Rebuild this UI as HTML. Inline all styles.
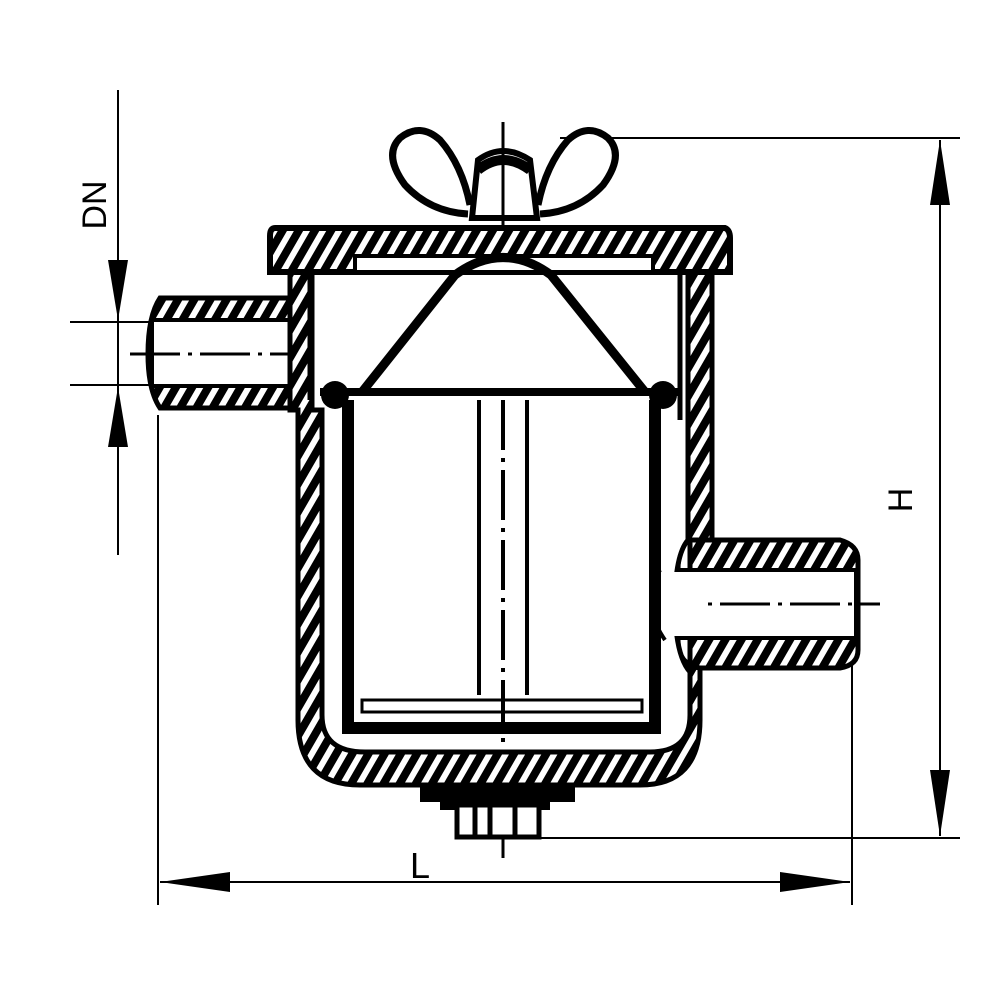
<!DOCTYPE html>
<html><head><style>html,body{margin:0;background:#fff}svg{display:block}</style></head><body>
<svg width="1000" height="1000" viewBox="0 0 1000 1000" xmlns="http://www.w3.org/2000/svg">
<defs>
<pattern id="h" patternUnits="userSpaceOnUse" width="14" height="14" patternTransform="rotate(30)">
<rect width="14" height="14" fill="#000"/><rect x="0" y="0" width="6" height="14" fill="#fff"/>
</pattern>
</defs>
<g stroke="#000" fill="none">
<line x1="560" y1="138" x2="960" y2="138" stroke-width="2"/>
<line x1="520" y1="838" x2="960" y2="838" stroke-width="2"/>
<line x1="940" y1="140" x2="940" y2="836" stroke-width="2"/>
<line x1="158" y1="415" x2="158" y2="905" stroke-width="2"/>
<line x1="852" y1="660" x2="852" y2="905" stroke-width="2"/>
<line x1="160" y1="882" x2="850" y2="882" stroke-width="2"/>
<line x1="118" y1="90" x2="118" y2="555" stroke-width="2"/>
<line x1="70" y1="322" x2="335" y2="322" stroke-width="2"/>
<line x1="70" y1="385" x2="330" y2="385" stroke-width="2"/>
<line x1="503" y1="122" x2="503" y2="858" stroke-width="3" stroke-dasharray="50 8 4 8"/>
</g>
<g fill="#000">
<polygon points="940,140 930,205 950,205"/>
<polygon points="940,836 930,770 950,770"/>
<polygon points="160,882 230,872 230,892"/>
<polygon points="850,882 780,872 780,892"/>
<polygon points="118,320 108,260 128,260"/>
<polygon points="118,387 108,447 128,447"/>
</g>
<text x="0" y="0" transform="translate(912,500) rotate(-90)" font-family="Liberation Sans,sans-serif" font-size="34" text-anchor="middle">H</text>
<text x="0" y="0" transform="translate(106,205) rotate(-90)" font-family="Liberation Sans,sans-serif" font-size="34" text-anchor="middle">DN</text>
<text x="420" y="878" font-family="Liberation Sans,sans-serif" font-size="36" text-anchor="middle">L</text>

<path d="M160,298 H290 V408 H160 Q148,390 148,354 Q148,316 160,298 Z" fill="url(#h)" stroke="#000" stroke-width="5"/>
<rect x="152" y="320" width="175" height="66" fill="#fff" stroke="#000" stroke-width="4"/>
<line x1="130" y1="354" x2="300" y2="354" stroke="#000" stroke-width="3" stroke-dasharray="50 8 4 8"/>
<path d="M690,540 H840 Q858,545 858,560 V650 Q858,665 840,668 H690 Z" fill="url(#h)" stroke="#000" stroke-width="5"/>
<rect x="670" y="570" width="186" height="68" fill="#fff" stroke="#000" stroke-width="4"/>
<line x1="650" y1="604" x2="880" y2="604" stroke="#000" stroke-width="3" stroke-dasharray="50 8 4 8"/>

<path d="M290,272 H712 V540 H690 Q678,545 678,570 V640 Q678,665 700,668 V720 Q700,785 640,785 H360 Q298,785 298,720 V410 H290 Z" fill="url(#h)" stroke="#000" stroke-width="5"/>
<path d="M312,272 H688 V540 Q675,555 675,604 Q675,655 690,672 V715 Q690,752 650,752 H365 Q322,752 322,715 V410 H312 Z" fill="#fff" stroke="#000" stroke-width="5"/>
<rect x="670" y="572" width="30" height="64" fill="#fff"/>
<line x1="680" y1="270" x2="680" y2="420" stroke="#000" stroke-width="5"/>
<line x1="310" y1="270" x2="310" y2="400" stroke="#000" stroke-width="5"/>

<line x1="320" y1="392" x2="680" y2="392" stroke="#000" stroke-width="8"/>
<circle cx="335" cy="395" r="14" fill="#000"/>
<circle cx="663" cy="395" r="14" fill="#000"/>
<path d="M348,400 V728 H655 V400" fill="none" stroke="#000" stroke-width="12"/>
<rect x="362" y="700" width="280" height="12" fill="#fff" stroke="#000" stroke-width="3"/>
<line x1="479" y1="400" x2="479" y2="695" stroke="#000" stroke-width="4"/>
<line x1="527" y1="400" x2="527" y2="695" stroke="#000" stroke-width="4"/>
<line x1="503" y1="400" x2="503" y2="750" stroke="#000" stroke-width="4" stroke-dasharray="50 8 4 8"/>
<path d="M660,570 Q640,604 665,640" fill="none" stroke="#000" stroke-width="4"/>

<path d="M420,785 H575 V802 H550 V810 H440 V802 H420 Z" fill="#000"/>
<rect x="457" y="805" width="82" height="32" fill="#fff" stroke="#000" stroke-width="5"/>
<g stroke="#000" stroke-width="5"><line x1="475" y1="805" x2="475" y2="837"/><line x1="490" y1="805" x2="490" y2="837"/><line x1="515" y1="805" x2="515" y2="837"/></g>

<path d="M275,228 H725 Q730,230 730,238 V272 H270 V236 Q270,228 275,228 Z" fill="url(#h)" stroke="#000" stroke-width="6"/>
<rect x="355" y="256" width="298" height="16" fill="#fff" stroke="#000" stroke-width="4"/>
<!-- cone -->
<path d="M362,392 L455,275 Q503,240 551,275 L645,392" fill="none" stroke="#000" stroke-width="9"/>

<!-- wing nut -->
<path d="M468,214 Q430,212 405,185 Q383,155 400,138 Q420,122 440,140 Q462,165 470,205" fill="#fff" stroke="#000" stroke-width="7"/>
<path d="M540,214 Q578,212 603,185 Q625,155 608,138 Q588,122 568,140 Q546,165 538,205" fill="#fff" stroke="#000" stroke-width="7"/>
<path d="M472,218 L478,160 Q503,142 530,160 L537,218 Z" fill="#fff" stroke="#000" stroke-width="6"/>
<path d="M478,170 Q503,150 530,170" fill="none" stroke="#000" stroke-width="10"/>
<line x1="503" y1="122" x2="503" y2="225" stroke="#000" stroke-width="3"/>
</svg>
</body></html>
